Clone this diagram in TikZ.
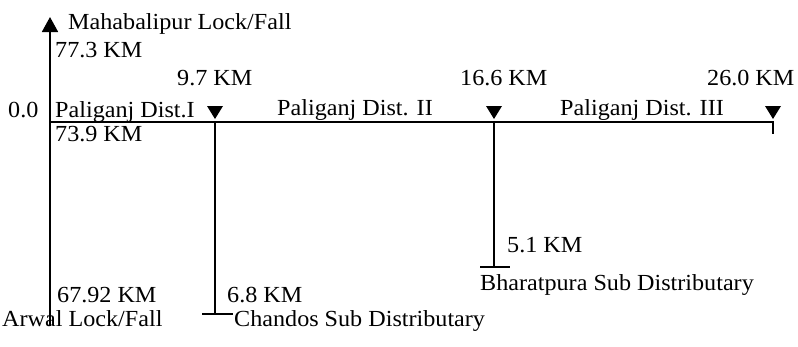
\documentclass[tikz,border=0pt]{standalone}
\usepackage{fontspec}
\setmainfont[FakeStretch=1.05]{Liberation Serif}
\usetikzlibrary{arrows.meta}
\begin{document}
\begin{tikzpicture}[x=1pt,y=-1pt,
  lbl/.style={anchor=base west,inner sep=0pt,font=\fontsize{23}{27}\selectfont},
  canal/.style={line width=1.8pt,black},
  marker/.style={fill=black}]
\useasboundingbox (0,0) rectangle (798,346);
% junction coordinates
\coordinate (top) at (50,17);
\coordinate (o) at (50,122);
\coordinate (bot) at (50,326);
\coordinate (j1) at (215,122);
\coordinate (j2) at (494,122);
\coordinate (j3) at (773,122);
\coordinate (e1) at (215,314);
\coordinate (e2) at (494,267);
\coordinate (e3) at (773,134);
% lines
\draw[canal,-{Triangle[width=16pt,length=15pt]}] (bot) -- (top);
\draw[canal] (o) -- (j3) -- (e3);
\draw[canal] (j1) -- (e1);
\draw[canal] (j2) -- (e2);
\draw[canal] ([xshift=-13pt]e1) -- ([xshift=18pt]e1);
\draw[canal] ([xshift=-14pt]e2) -- ([xshift=16pt]e2);
% markers
\foreach \j in {j1,j2,j3}{
  \fill[marker] ([shift={(-8,-16)}]\j) -- ([shift={(8,-16)}]\j) -- ([shift={(0,-3)}]\j) -- cycle;
}
% labels
\node[lbl] (mah) at (68,29) {Mahabalipur Lock/Fall};
\node[lbl] (k773) at (55,57) {77.3 KM};
\node[lbl] (k97) at (177,85) {9.7 KM};
\node[lbl] (k166) at (460,85) {16.6 KM};
\node[lbl] (k260) at (707,85) {26.0 KM};
\node[lbl] (zero) at (8,117) {0.0};
\node[lbl] (d1) at (55,117) {Paliganj Dist.I};
\node[lbl] (d2) at (277,115) {Paliganj Dist. II};
\node[lbl] (d3) at (560,115) {Paliganj Dist. III};
\node[lbl] (k739) at (55,141) {73.9 KM};
\node[lbl] (k51) at (507,252) {5.1 KM};
\node[lbl] (bhar) at (480,290) {Bharatpura Sub Distributary};
\node[lbl] (k6792) at (57,302) {67.92 KM};
\node[lbl] (k68) at (227,302) {6.8 KM};
\node[lbl] (arwal) at (2,326) {Arwal Lock/Fall};
\node[lbl] (chan) at (234,326) {Chandos Sub Distributary};
\end{tikzpicture}
\end{document}
